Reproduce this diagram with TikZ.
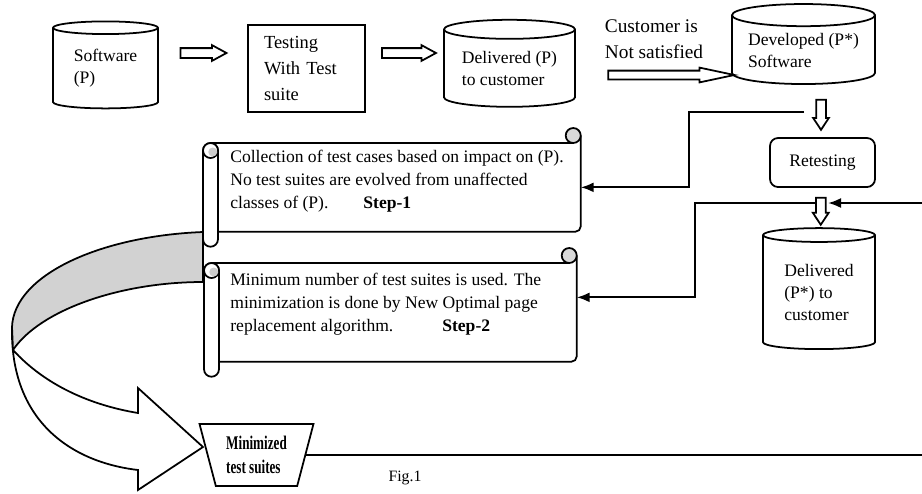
\documentclass[tikz,border=0pt]{standalone}
\usepackage{fontspec}
\setmainfont{Liberation Serif}
\newfontfamily\narrowserif{Liberation Serif}[FakeStretch=0.68]
\usetikzlibrary{shapes,arrows.meta,positioning,calc}
\def\rollradius{0.15cm}

\tikzset{
  outline/.style={line width=1pt},
  store/.style={cylinder, shape border rotate=90, draw, outline, aspect=0.2,
    align=left, inner sep=0pt, fill=white, font=\fontsize{10}{12.5}\selectfont},
  process/.style={rectangle, draw, outline, align=left, fill=white,
    font=\fontsize{10}{12.5}\selectfont},
  blockarrow/.style={single arrow, draw, outline, fill=white, inner xsep=0pt,
    inner ysep=0.08cm, single arrow head extend=0.06cm, minimum width=0pt},
  stepbody/.style={rectangle, inner sep=0pt, anchor=north west},
  steptext/.style={anchor=north west, inner sep=0pt, align=left,
    font=\fontsize{10}{13}\selectfont},
  flow/.style={line width=1.2pt, -{Latex[length=2.6mm,width=2mm]}},
  minimized/.style={trapezium, draw, outline, fill=white, shape border rotate=180,
    trapezium left angle=72, trapezium right angle=72, trapezium stretches=true,
    minimum width=2.28cm, minimum height=1.24cm, inner sep=0pt, align=left,
    font=\narrowserif\bfseries\fontsize{11}{13.5}\selectfont}
}

\newcommand{\scrollframe}[1]{%
  \fill[white] (#1.north west) rectangle (#1.south east);
  \draw[outline] ($(#1.north west)+(-\rollradius,0)$) -- ($(#1.north east)+(-\rollradius,0)$);
  \draw[outline, rounded corners=3pt] ($(#1.north east)+(0,\rollradius)$) -- (#1.south east) -- (#1.south west);
  \filldraw[outline, fill=gray!30] ($(#1.north east)+(-\rollradius,\rollradius)$) circle[radius=\rollradius];
  \filldraw[outline, fill=white] ($(#1.north west)+(0,-\rollradius)$)
    -- ($(#1.south west)+(0,-\rollradius)$) arc[start angle=0, end angle=-180, radius=\rollradius]
    -- ($(#1.north west)+(-2*\rollradius,-\rollradius)$) arc[start angle=180, end angle=0, radius=\rollradius]
    -- cycle;
  \filldraw[outline, fill=white] ($(#1.north west)+(-\rollradius,-\rollradius)$) circle[radius=\rollradius];
  \fill[gray!40] ($(#1.north west)+(-0.7*\rollradius,-1.2*\rollradius)$) circle[radius=0.6*\rollradius];
}

\begin{document}
\begin{tikzpicture}
\useasboundingbox (0,0) rectangle (18.44,-9.86);

% top row
\node[store, minimum width=2.1cm, minimum height=1.74cm] (software) at (2.11,-1.37) {Software\\(P)};
\node[process, minimum width=2.34cm, minimum height=1.74cm, text width=1.7cm,
  font=\fontsize{10.5}{15}\selectfont] (testing) at (6.13,-1.37) {Testing\\With Test\\suite};
\node[store, minimum width=2.62cm, minimum height=1.74cm] (delivered) at (10.19,-1.37) {Delivered (P)\\to customer};
\node[store, minimum width=2.86cm, minimum height=1.6cm] (developed) at (16.07,-1.0) {Developed (P*)\\Software};
\node[align=left, font=\fontsize{11}{14.7}\selectfont] (notsatisfied) at (13.08,-0.78) {Customer is\\Not satisfied};

% right column
\node[process, rounded corners=0.16cm, minimum width=2.1cm, minimum height=0.98cm] (retesting) at (16.45,-3.25) {Retesting};
\node[store, minimum width=2.24cm, minimum height=2.42cm] (deliveredstar) at (16.38,-5.85) {Delivered\\(P*) to\\customer};

% block arrows
\node[blockarrow, minimum height=0.92cm, single arrow tip angle=57]
  (arrowone) at ($(software.east)!0.5!(testing.west)+(-0.08,0.31)$) {};
\node[blockarrow, minimum height=1.08cm, single arrow tip angle=57]
  (arrowtwo) at ($(testing.east)!0.5!(delivered.west)+(0,0.31)$) {};
\node[blockarrow, minimum height=2.52cm, inner ysep=0.07cm, single arrow tip angle=24]
  (arrowthree) at ($(delivered.east)!0.5!(developed.west)+(0.15,-0.315)$) {};
\node[blockarrow, minimum height=0.6cm, single arrow tip angle=67, rotate=-90]
  (devarrow) at ($(retesting.north)+(-0.03,0.52)$) {};
\node[blockarrow, minimum height=0.54cm, single arrow tip angle=67, rotate=-90]
  (retarrow) at ($(retesting.south)!0.5!(deliveredstar.north)$) {};

% curved arrow
\fill[gray!35] (4.06,-4.64) .. controls (2.0,-4.72) and (0.28,-5.5) .. (0.24,-6.54)
  -- (0.26,-7.0) .. controls (0.8,-6.2) and (2.4,-5.64) .. (4.06,-5.64) -- cycle;
\draw[outline] (4.06,-5.64) .. controls (2.4,-5.64) and (0.8,-6.2) .. (0.26,-7.0);
\draw[outline, fill=white] (0.26,-7.0) .. controls (0.9,-7.7) and (1.8,-8.1) .. (2.76,-8.26)
  -- (2.76,-7.76) -- (4.06,-8.94) -- (2.76,-9.8) -- (2.76,-9.4)
  .. controls (1.4,-9.24) and (0.2,-8.4) .. (0.24,-6.54) -- cycle;
\draw[outline] (4.06,-4.64) .. controls (2.0,-4.72) and (0.28,-5.5) .. (0.24,-6.54);
\draw[outline] (4.06,-4.64) -- (4.06,-5.64);

% scrolls
\node[stepbody, minimum width=7.24cm, minimum height=1.76cm] (stepone) at (4.36,-2.86) {};
\node[stepbody, minimum width=7.14cm, minimum height=1.96cm] (steptwo) at (4.38,-5.26) {};
\scrollframe{stepone}
\scrollframe{steptwo}
\node[steptext] (steponetext) at (4.6,-3.0) {Collection of test cases based on impact on (P).\\
  No test suites are evolved from unaffected\\
  classes of (P).\hspace{0.7cm}\textbf{Step-1}};
\node[steptext] (steptwotext) at (4.6,-5.46) {Minimum number of test suites is used. The\\
  minimization is done by New Optimal page\\
  replacement algorithm.\hspace{0.98cm}\textbf{Step-2}};

\node[minimized] (mini) at (5.13,-9.1) {Minimized\\test suites};
\node[font=\fontsize{9}{11}\selectfont] (caption) at (8.1,-9.56) {Fig.1};

% connectors
\coordinate (fromdev) at (16.08,-2.24);
\coordinate (fromret) at (16.3,-4.06);
\coordinate (rettip) at (16.56,-4.06);
\coordinate (loopback) at (18.7,-4.06);
\draw[flow] (fromdev) -- ++(-2.3,0) |- (stepone.east);
\draw[flow] (fromret) -- ++(-2.4,0) |- ($(steptwo.east)+(0,0.3)$);
\draw[flow] (mini.east) -| (loopback) -- (rettip);

\end{tikzpicture}
\end{document}
